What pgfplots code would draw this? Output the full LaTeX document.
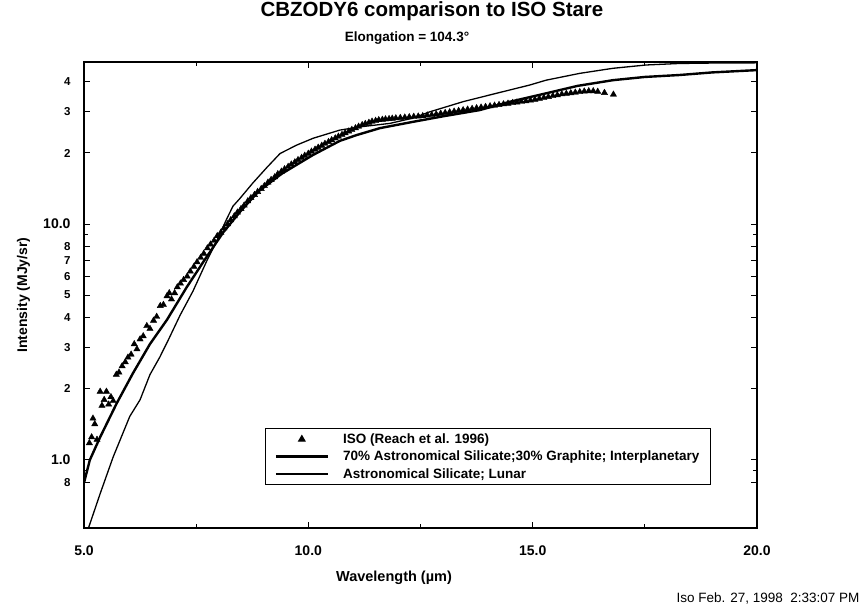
\documentclass[border=0pt]{standalone}
\usepackage{pgfplots}
\pgfplotsset{compat=1.18}
\usepackage{fontspec}
\setmainfont{Liberation Sans}

\pgfplotstableread{
x y
5.12 1.18
5.17 1.25
5.20 1.50
5.24 1.42
5.29 1.22
5.36 1.95
5.40 1.70
5.45 1.80
5.50 1.95
5.55 1.72
5.60 1.85
5.65 1.78
5.72 2.30
5.78 2.35
5.85 2.50
5.92 2.60
5.98 2.72
6.05 2.80
6.12 3.10
6.18 2.95
6.25 3.25
6.32 3.35
6.40 3.70
6.47 3.60
6.55 3.90
6.62 4.05
6.70 4.50
6.77 4.55
6.85 4.95
6.90 5.10
6.95 4.80
7.02 5.10
7.08 5.40
7.15 5.60
7.22 5.80
7.30 6.00
7.37 6.30
7.45 6.60
7.52 6.90
7.60 7.20
7.67 7.50
7.75 7.90
7.82 8.20
7.90 8.50
7.97 8.90
8.05 9.20
8.12 9.60
8.20 10.0
8.27 10.4
8.35 10.8
8.42 11.2
8.50 11.6
8.57 12.0
8.65 12.5
8.72 12.9
8.80 13.3
8.87 13.7
8.95 14.1
9.02 14.5
9.10 15.0
9.17 15.4
9.25 15.8
9.32 16.3
9.40 16.7
9.47 17.1
9.55 17.5
9.62 17.9
9.70 18.3
9.77 18.7
9.85 19.1
9.92 19.5
10.00 19.9
10.07 20.3
10.15 20.7
10.22 21.1
10.30 21.5
10.37 21.9
10.45 22.3
10.52 22.7
10.60 23.1
10.67 23.5
10.75 23.9
10.82 24.3
10.90 24.7
10.97 25.1
11.05 25.5
11.12 25.9
11.20 26.3
11.27 26.6
11.35 26.9
11.42 27.2
11.50 27.4
11.57 27.6
11.65 27.7
11.72 27.8
11.80 27.9
11.87 28.0
11.95 28.1
12.05 28.2
12.15 28.3
12.25 28.4
12.35 28.5
12.45 28.6
12.55 28.7
12.65 28.9
12.75 29.0
12.85 29.2
12.95 29.4
13.05 29.6
13.15 29.8
13.25 30.0
13.35 30.2
13.45 30.4
13.55 30.6
13.65 30.8
13.75 31.0
13.85 31.2
13.95 31.4
14.05 31.6
14.15 31.8
14.25 32.0
14.35 32.2
14.45 32.4
14.55 32.6
14.65 32.8
14.75 33.0
14.85 33.2
14.95 33.4
15.05 33.7
15.15 34.0
15.25 34.3
15.35 34.6
15.45 34.9
15.55 35.2
15.65 35.5
15.75 35.7
15.85 35.9
15.95 36.1
16.05 36.3
16.15 36.5
16.25 36.6
16.35 36.6
16.45 36.4
16.60 36.0
16.80 35.4
}\isodata

\pgfplotstableread{
x y
5.00 0.80
5.13 1.00
5.36 1.25
5.73 1.74
6.09 2.33
6.47 3.10
6.85 3.93
7.29 5.40
7.70 7.10
8.10 9.20
8.50 11.4
8.90 13.8
9.40 16.3
10.10 19.6
10.70 22.5
11.07 23.8
11.60 25.5
12.33 27.1
13.00 28.6
13.82 30.4
14.50 33.0
15.30 35.8
16.00 38.5
16.79 40.7
17.50 42.0
18.27 42.8
19.00 43.9
20.00 44.9
}\interdata

\pgfplotstableread{
x y
5.10 0.515
5.36 0.72
5.65 1.03
6.02 1.53
6.25 1.80
6.47 2.30
6.69 2.73
6.87 3.20
7.14 4.10
7.43 5.20
7.74 7.00
7.96 8.50
8.18 10.5
8.32 11.9
8.47 12.8
8.76 14.9
9.08 17.4
9.37 19.9
9.74 21.6
10.11 23.1
10.70 25.0
11.15 25.8
11.82 26.7
12.33 28.1
12.71 29.9
13.45 33.0
14.19 35.8
14.93 38.8
15.30 40.7
16.05 43.5
16.79 45.7
17.53 47.2
18.27 47.9
19.00 48.1
20.00 48.2
}\lunardata

\begin{document}
\begin{tikzpicture}[x=1pt,y=1pt]
\useasboundingbox (-84,-79) rectangle (781,528);
\begin{axis}[
  at={(0,0)}, anchor=south west,
  width=673pt, height=466pt, scale only axis,
  xmin=5, xmax=20,
  ymode=log, ymin=0.515, ymax=48.6,
  axis line style={line width=1.6pt},
  tick align=inside,
  major tick length=6pt, minor tick length=4pt,
  every tick/.style={black, line width=1pt},
  xtick={5,10,15,20}, xticklabels={5.0,10.0,15.0,20.0},
  minor xtick={7.5,12.5,17.5},
  ytick={0.8,1,2,3,4,5,6,7,8,10,20,30,40},
  yticklabels={8,{\fontsize{14}{16}\selectfont 1.0},2,3,4,5,6,7,8,{\fontsize{14}{16}\selectfont 10.0},2,3,4},
  minor ytick={0.9,9},
  x tick label style={font=\fontsize{14}{16}\selectfont\bfseries, yshift=-14pt},
  y tick label style={font=\fontsize{11.5}{13}\selectfont\bfseries, xshift=-10pt},
  xlabel={Wavelength (µm)},
  xlabel style={at={(axis description cs:0.4606,-0.107)}, anchor=center, font=\fontsize{14.5}{17}\selectfont\bfseries},
  ylabel={Intensity (MJy/sr)},
  ylabel style={at={(axis description cs:-0.09,0.5)}, anchor=center, font=\fontsize{14}{17}\selectfont\bfseries},
  title={CBZODY6 comparison to ISO Stare},
  title style={at={(axis description cs:0.517,1.097)}, anchor=center, inner sep=0pt, font=\fontsize{20.5}{24}\selectfont\bfseries},
  legend cell align=left,
  legend style={at={(0.269,0.092)}, anchor=south west, draw=black, line width=1.2pt,
    font=\fontsize{13.5}{16}\selectfont\bfseries, row sep=2pt, inner xsep=9pt, inner ysep=3pt,
    /tikz/every odd column/.append style={column sep=12pt}},
  legend image code/.code={\draw[mark repeat=2,mark phase=2] plot coordinates {(0pt,0pt) (26pt,0pt) (52pt,0pt)};},
]
\addplot[only marks, mark=triangle*, mark size=3.6pt, black] table {\isodata};
\addlegendentry{ISO (Reach et al. 1996)}
\addplot[black, line width=2.4pt] table {\interdata};
\addlegendentry{70\% Astronomical Silicate;30\% Graphite; Interplanetary}
\addplot[black, line width=1.3pt] table {\lunardata};
\addlegendentry{Astronomical Silicate; Lunar}
\end{axis}
\node[font=\fontsize{13.5}{16}\selectfont\bfseries] at (323,490) {Elongation = 104.3°};
\node[anchor=east, font=\fontsize{13.5}{16}\selectfont] at (779,-70) {Iso Feb. 27, 1998 \ 2:33:07 PM};
\end{tikzpicture}
\end{document}
